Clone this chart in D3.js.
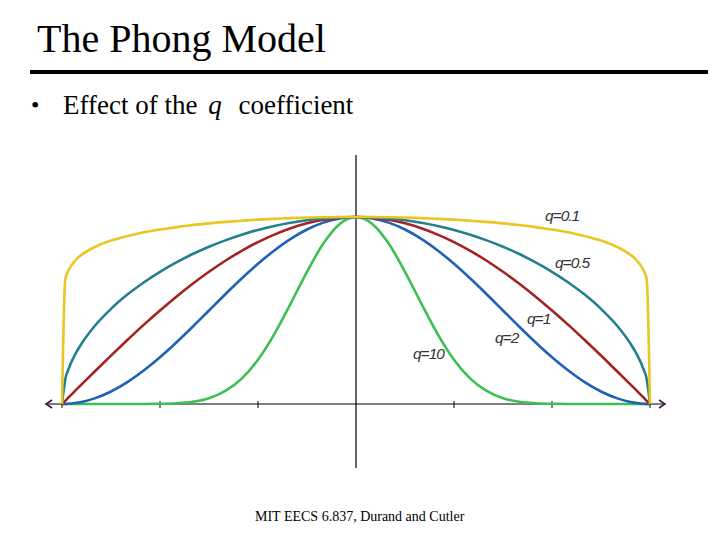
<!DOCTYPE html>
<html><head><meta charset="utf-8">
<script src="https://cdn.jsdelivr.net/npm/d3@7/dist/d3.min.js"></script>
<style>body{margin:0;background:#fff}svg{display:block}</style>
</head><body>
<svg id="c" width="720" height="540"></svg>
<script>
// angle in degrees
const angles = [-90,-89,-88,-86,-84,-80,-75,-70,-65,-60,-55,-50,-45,-40,-35,-30,-25,-20,-15,-10,-5,0,
                5,10,15,20,25,30,35,40,45,50,55,60,65,70,75,80,84,86,88,89,90];
const q01 = [0,.667,.715,.766,.798,.839,.874,.898,.918,.933,.946,.957,.966,.974,.980,.986,.990,.994,.997,.999,1.0,1,
             1.0,.999,.997,.994,.990,.986,.980,.974,.966,.957,.946,.933,.918,.898,.874,.839,.798,.766,.715,.667,0];
const q05 = [0,.132,.187,.264,.323,.417,.509,.585,.650,.707,.757,.802,.841,.875,.905,.931,.952,.969,.983,.992,.998,1,
             .998,.992,.983,.969,.952,.931,.905,.875,.841,.802,.757,.707,.650,.585,.509,.417,.323,.264,.187,.132,0];
const q1  = [0,.017,.035,.070,.105,.174,.259,.342,.423,.500,.574,.643,.707,.766,.819,.866,.906,.940,.966,.985,.996,1,
             .996,.985,.966,.940,.906,.866,.819,.766,.707,.643,.574,.500,.423,.342,.259,.174,.105,.070,.035,.017,0];
const q2  = [0,.0003,.001,.005,.011,.030,.067,.117,.179,.250,.329,.413,.500,.587,.671,.750,.821,.883,.933,.970,.992,1,
             .992,.970,.933,.883,.821,.750,.671,.587,.500,.413,.329,.250,.179,.117,.067,.030,.011,.005,.001,.0003,0];
const q10 = [0,0,0,0,0,0,0,0,.0002,.001,.004,.012,.031,.070,.136,.237,.374,.537,.707,.858,.963,1,
             .963,.858,.707,.537,.374,.237,.136,.070,.031,.012,.004,.001,.0002,0,0,0,0,0,0,0,0];
const seriesNames = ["q=10","q=2","q=1","q=0.5","q=0.1"];
const seriesValues = [q10,q2,q1,q05,q01];
const seriesColors = ["#3dbf52","#2160b5","#a52222","#24808e","#eac623"];
const tickAngles = [-90,-60,-30,30,60,90];
const labelPos = [[413,359],[495,343],[527,324],[555,268],[545,221]];

const svg = d3.select("#c");
const serif = "Liberation Serif, Times New Roman, serif";
// Title
svg.append("text").attr("x",37).attr("y",52).attr("font-family",serif)
  .attr("font-size",40).attr("fill","#000").text("The Phong Model");
svg.append("rect").attr("x",30).attr("y",70).attr("width",678).attr("height",4).attr("fill","#000");
svg.append("text").attr("x",31).attr("y",113).attr("font-family",serif).attr("font-size",24).text("•");
const sub = svg.append("text").attr("x",63).attr("y",114).attr("font-family",serif).attr("font-size",27);
sub.append("tspan").text("Effect of the ");
sub.append("tspan").attr("dx",4).attr("font-style","italic").text("q");
sub.append("tspan").attr("dx",10).text(" coefficient");

svg.append("text").attr("x",255).attr("y",521).attr("font-family",serif).attr("font-size",14)
  .text("MIT EECS 6.837, Durand and Cutler");

const x = d3.scaleLinear().domain([-90,90]).range([62,650]);
const y = d3.scaleLinear().domain([0,1]).range([404,217]);

// axes
svg.append("line").attr("x1",x(0)).attr("x2",x(0)).attr("y1",155).attr("y2",468).attr("stroke","#000").attr("stroke-width",1.2);
svg.append("line").attr("x1",46).attr("x2",665).attr("y1",y(0)).attr("y2",y(0)).attr("stroke","#000").attr("stroke-width",1.2);
svg.selectAll("line.tick").data(tickAngles).join("line").attr("class","tick")
  .attr("x1",d=>x(d)).attr("x2",d=>x(d)).attr("y1",y(0)-3).attr("y2",y(0)+4).attr("stroke","#000").attr("stroke-width",1);
// arrowheads
svg.append("path").attr("d",`M${52},${y(0)-4} L${46},${y(0)} L${52},${y(0)+4}`).attr("fill","none").attr("stroke","#3a1a48").attr("stroke-width",1.6);
svg.append("path").attr("d",`M${659},${y(0)-4} L${665},${y(0)} L${659},${y(0)+4}`).attr("fill","none").attr("stroke","#3a1a48").attr("stroke-width",1.6);

const line = d3.line().x((d,i)=>x(angles[i])).y(d=>y(d)).curve(d3.curveMonotoneX);
svg.selectAll("path.curve").data(seriesValues).join("path").attr("class","curve")
  .attr("d",d=>line(d)).attr("fill","none").attr("stroke",(d,i)=>seriesColors[i]).attr("stroke-width",2.6)
  .attr("stroke-linejoin","round");

svg.selectAll("text.lbl").data(seriesNames).join("text").attr("class","lbl")
  .attr("x",(d,i)=>labelPos[i][0]).attr("y",(d,i)=>labelPos[i][1])
  .attr("font-family","Liberation Sans Narrow, Liberation Sans, Arial, sans-serif").attr("font-style","italic")
  .attr("font-size",15.5).attr("fill","#333").attr("letter-spacing",-1).text(d=>d);
</script>
</body></html>
